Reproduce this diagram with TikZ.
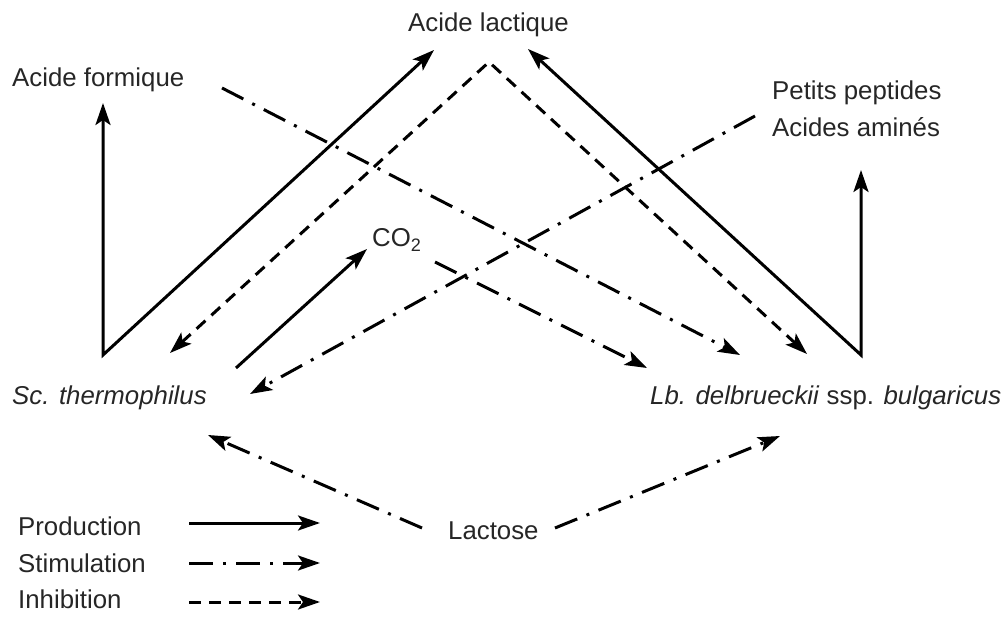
\documentclass[tikz,border=0pt]{standalone}
\usepackage{fontspec}
\setmainfont{Liberation Sans}
\usetikzlibrary{arrows.meta}
\begin{document}
\begin{tikzpicture}[x=1pt,y=-1pt,
  lbl/.style={font=\fontsize{25.8}{30}\selectfont, inner sep=0pt, anchor=base west, text=black!85},
  tip/.style={-{Stealth[length=22pt,width=15pt,inset=5pt]}},
  prod/.style={line width=3pt, line join=miter, tip},
  stim/.style={line width=3pt, dash pattern=on 24pt off 10pt on 3pt off 10pt, tip},
  inhib/.style={line width=3pt, line join=miter, dash pattern=on 12pt off 8pt, tip},
  both/.style={{Stealth[length=22pt,width=15pt,inset=5pt]}-{Stealth[length=22pt,width=15pt,inset=5pt]}}
]
\useasboundingbox (0,0) rectangle (1004,617);
% labels
\node[lbl] (lactique) at (408,32) {Acide lactique};
\node[lbl] (formique) at (12,87) {Acide formique};
\node[lbl] (peptides) at (772,100) {Petits peptides};
\node[lbl] (amines) at (772,137) {Acides aminés};
\node[lbl] (sc) at (12,405) {\itshape Sc. thermophilus};
\node[lbl] (lb) at (650,405) {\textit{Lb. delbrueckii} ssp. \textit{bulgaricus}};
\node[lbl] (co2) at (372,247) {CO\textsubscript{2}};
\node[lbl] (lactose) at (448,539) {Lactose};
\node[lbl] (lprod) at (18,535) {Production};
\node[lbl] (lstim) at (18,572) {Stimulation};
\node[lbl] (linhib) at (18,608) {Inhibition};
% coordinates
\coordinate (formTip) at (103,103);
\coordinate (scV) at (103,355);
\coordinate (lacTipL) at (434,50);
\coordinate (lacTipR) at (528,49);
\coordinate (lbV) at (861,355);
\coordinate (pepTip) at (861,170);
\coordinate (inhL) at (170,353);
\coordinate (apex) at (489,62);
\coordinate (inhR) at (807,354);
\coordinate (co2S) at (236,368);
\coordinate (co2Tip) at (367,249);
\coordinate (co2B) at (435,262);
\coordinate (lbT1) at (647,368);
\coordinate (formS) at (222,88);
\coordinate (lbT2) at (740,355);
\coordinate (pepS) at (755,116);
\coordinate (scT1) at (250,394);
\coordinate (lacS1) at (422,528);
\coordinate (scT2) at (208,435);
\coordinate (lacS2) at (555,528);
\coordinate (lbT3) at (780,436);
\coordinate (pA) at (189,523); \coordinate (pB) at (320,523);
\coordinate (sA) at (189,563); \coordinate (sB) at (320,563);
\coordinate (iA) at (189,602); \coordinate (iB) at (320,602);
% production
\draw[prod, both] (formTip) -- (scV) -- (lacTipL);
\draw[prod, both] (lacTipR) -- (lbV) -- (pepTip);
\draw[prod] (co2S) -- (co2Tip);
% inhibition
\draw[inhib, both] (inhL) -- (apex) -- (inhR);
% stimulation
\draw[stim] (co2B) -- (lbT1);
\draw[stim] (formS) -- (lbT2);
\draw[stim] (pepS) -- (scT1);
\draw[stim] (lacS1) -- (scT2);
\draw[stim] (lacS2) -- (lbT3);
% legend
\draw[prod] (pA) -- (pB);
\draw[stim] (sA) -- (sB);
\draw[inhib] (iA) -- (iB);
\end{tikzpicture}
\end{document}
